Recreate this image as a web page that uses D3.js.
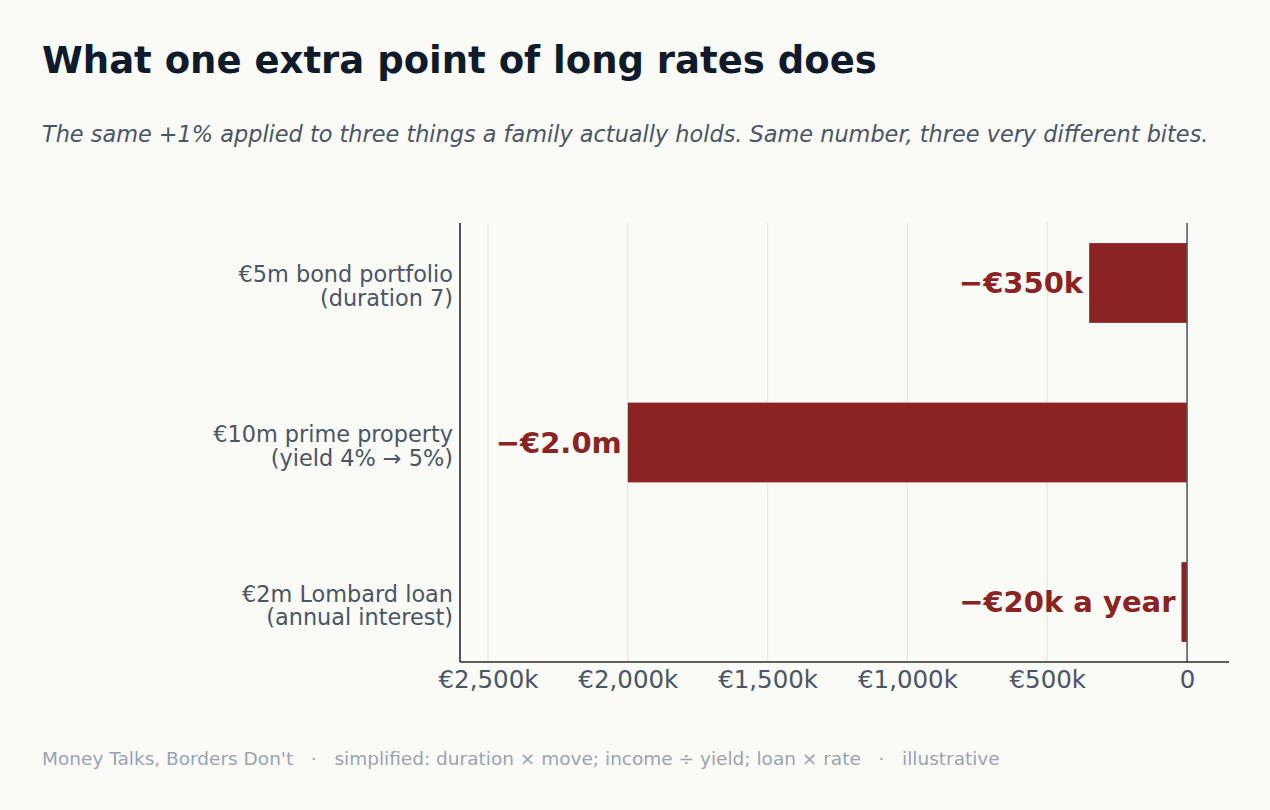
<!DOCTYPE html>
<html><head><meta charset="utf-8">
<script src="https://cdn.jsdelivr.net/npm/d3@7"></script>
<style>
html,body{margin:0;padding:0;background:#FAFAF7;}
svg{display:block;}
</style></head>
<body>
<svg id="chart" width="1270" height="810"></svg>
<script>
const categories = [
  ["€5m bond portfolio", "(duration 7)"],
  ["€10m prime property", "(yield 4% → 5%)"],
  ["€2m Lombard loan", "(annual interest)"]
];
const valuesK = [-350, -2000, -20];
const valueLabels = ["−€350k", "−€2.0m", "−€20k a year"];
const tickValuesK = [-2500, -2000, -1500, -1000, -500, 0];

const title = "What one extra point of long rates does";
const subtitle = "The same +1% applied to three things a family actually holds. Same number, three very different bites.";
const footer = "Money Talks, Borders Don't   ·   simplified: duration × move; income ÷ yield; loan × rate   ·   illustrative";

const svg = d3.select("#chart");
const W = 1270, H = 810;
svg.append("rect").attr("width", W).attr("height", H).attr("fill", "#FAFAF7");

const font = "'DejaVu Sans', sans-serif";
const plot = {left: 460, right: 1229, top: 223, bottom: 662};
const barColor = "#8B2323";

const x = d3.scaleLinear().domain([-2600, 150]).range([plot.left, plot.right]);
const y = d3.scaleBand().domain(d3.range(categories.length))
  .range([plot.top, plot.bottom]).paddingInner(0.5).paddingOuter(0.126);

// title
svg.append("text").attr("x", 42).attr("y", 73).attr("font-family", font)
  .attr("font-weight", "bold").attr("font-size", 37).attr("fill", "#0F1A2B").text(title);
svg.append("text").attr("x", 42).attr("y", 142).attr("font-family", font)
  .attr("font-style", "italic").attr("font-size", 22.4).attr("fill", "#4B5563").text(subtitle);

// grid
const g = svg.append("g");
g.selectAll("line.grid").data(tickValuesK).enter().append("line")
  .attr("x1", d => x(d)).attr("x2", d => x(d))
  .attr("y1", plot.top).attr("y2", plot.bottom)
  .attr("stroke", "#E8E8E5").attr("stroke-width", 1.3);

// bars
g.selectAll("rect.bar").data(valuesK).enter().append("rect")
  .attr("x", d => x(Math.min(0, d))).attr("width", d => Math.abs(x(d) - x(0)))
  .attr("y", (d, i) => y(i)).attr("height", y.bandwidth())
  .attr("fill", barColor);

// zero line
g.append("line").attr("x1", x(0)).attr("x2", x(0)).attr("y1", plot.top).attr("y2", plot.bottom)
  .attr("stroke", "#4B5563").attr("stroke-width", 1.5);

// value labels
g.selectAll("text.val").data(valuesK).enter().append("text")
  .attr("x", d => x(d) - 6).attr("y", (d, i) => y(i) + y.bandwidth() / 2)
  .attr("dy", "0.35em").attr("text-anchor", "end")
  .attr("font-family", font).attr("font-weight", "bold").attr("font-size", 29)
  .attr("fill", barColor).text((d, i) => valueLabels[i]);

// x axis
const xAxis = d3.axisBottom(x).tickValues(tickValuesK).tickSize(0).tickPadding(0)
  .tickFormat(v => v === 0 ? "0" : "€" + d3.format(",")(Math.abs(v)) + "k");
const xa = svg.append("g").attr("transform", `translate(0,${plot.bottom})`).call(xAxis);
xa.select(".domain").remove();
xa.selectAll("text").attr("font-family", font).attr("font-size", 24.5).attr("fill", "#4B5563")
  .attr("y", 26).attr("dy", null);

// category labels (one text per line)
const cl = svg.append("g");
categories.forEach((lines, i) => {
  const cy = y(i) + y.bandwidth() / 2;
  lines.forEach((ln, j) => {
    cl.append("text").attr("text-anchor", "end").attr("font-family", font)
      .attr("font-size", 22.4).attr("fill", "#4B5563")
      .attr("x", plot.left - 7).attr("y", cy - 0.5 + j * 23.5).text(ln);
  });
});

// spines
svg.append("line").attr("x1", plot.left).attr("x2", plot.left).attr("y1", plot.top).attr("y2", plot.bottom)
  .attr("stroke", "#2B2B2B").attr("stroke-width", 1.6);
svg.append("line").attr("x1", plot.left).attr("x2", plot.right).attr("y1", plot.bottom).attr("y2", plot.bottom)
  .attr("stroke", "#2B2B2B").attr("stroke-width", 1.6);

// footer
svg.append("text").attr("x", 42).attr("y", 765).attr("font-family", font)
  .attr("font-size", 18.5).attr("fill", "#9CA3AF").attr("xml:space", "preserve").style("white-space", "pre").text(footer);
</script>
</body></html>
